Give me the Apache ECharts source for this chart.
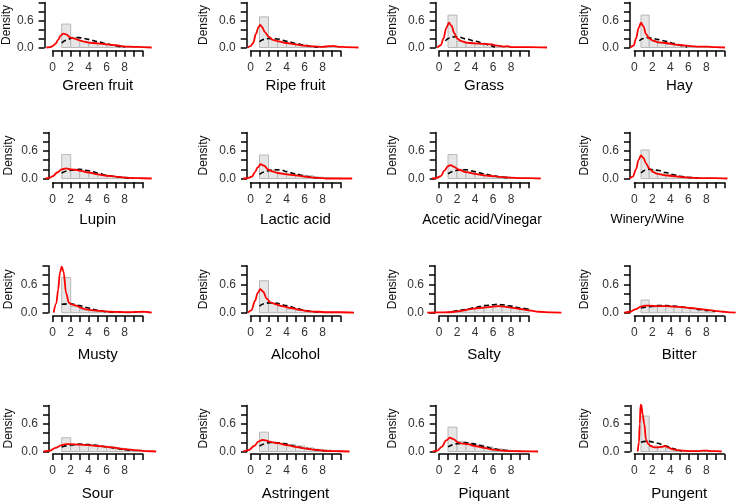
<!DOCTYPE html>
<html>
<head>
<meta charset="utf-8">
<script src="https://cdn.jsdelivr.net/npm/echarts@6/dist/echarts.min.js"></script>
<style>html,body{margin:0;padding:0;background:#fff}#c{width:748px;height:502px}</style>
</head>
<body>
<div id="c"></div>
<script>
// ---------- DATA ----------
const panelTitles = ['Green fruit','Ripe fruit','Grass','Hay','Lupin','Lactic acid','Acetic acid/Vinegar','Winery/Wine','Musty','Alcohol','Salty','Bitter','Sour','Astringent','Piquant','Pungent'];
const binStarts = [1,2,3,4,5,6,7,8,9];
const yTickLabels = ['0.0','0.6'];
const xTickLabels = ['0','2','4','6','8'];

const histHeights = [
  [0.52,0.22,0.14,0.10,0.08,0.06,0.04,0.02,0.01],
  [0.68,0.18,0.12,0.09,0.05,0.03,0.02,0.02,0.01],
  [0.72,0.14,0.10,0.08,0.08,0.04,0.02,0.01,0.01],
  [0.72,0.15,0.09,0.07,0.05,0.04,0.02,0.02,0.01],
  [0.52,0.20,0.16,0.12,0.08,0.05,0.03,0.02,0.01],
  [0.51,0.18,0.12,0.10,0.08,0.06,0.03,0.02,0.01],
  [0.52,0.20,0.14,0.10,0.06,0.04,0.03,0.02,0.01],
  [0.62,0.18,0.10,0.08,0.05,0.03,0.02,0.01,0.01],
  [0.75,0.14,0.06,0.04,0.03,0.02,0.01,0.01,0.02],
  [0.68,0.20,0.14,0.08,0.05,0.03,0.02,0.01,0.01],
  [0.03,0.05,0.08,0.11,0.14,0.16,0.14,0.10,0.08],
  [0.27,0.12,0.14,0.14,0.13,0.11,0.09,0.07,0.05],
  [0.30,0.14,0.14,0.14,0.12,0.10,0.07,0.05,0.03],
  [0.42,0.20,0.18,0.15,0.12,0.08,0.05,0.03,0.02],
  [0.53,0.22,0.18,0.14,0.10,0.06,0.03,0.02,0.01],
  [0.77,0.12,0.10,0.06,0.03,0.02,0.02,0.02,0.01]
];

const dashedCurves = [
  [[1,0.1],[1.5,0.16],[2,0.2],[2.5,0.22],[3,0.22],[3.5,0.2],[4,0.18],[5,0.13],[6,0.08],[7,0.04],[7.5,0.02],[8,0.005]],
  [[1,0.13],[1.5,0.18],[2,0.2],[2.5,0.2],[3,0.19],[4,0.14],[5,0.09],[6,0.05],[7,0.02],[7.5,0.005]],
  [[0.7,0.15],[1.2,0.21],[1.7,0.24],[2.2,0.23],[3,0.19],[4,0.14],[5,0.09],[5.7,0.04],[6.2,0.005]],
  [[0.8,0.15],[1.3,0.2],[1.8,0.22],[2.3,0.21],[3,0.18],[4,0.14],[5,0.09],[6,0.04],[6.6,0.005]],
  [[1,0.12],[2,0.18],[3,0.2],[4,0.17],[5,0.12],[6,0.07],[7,0.04],[8,0.02],[9,0.005]],
  [[1,0.09],[1.5,0.14],[2,0.17],[2.5,0.19],[3,0.19],[3.5,0.18],[4,0.15],[5,0.1],[6,0.05],[7,0.02],[8,0.005]],
  [[1,0.1],[1.5,0.15],[2,0.18],[2.5,0.19],[3,0.19],[4,0.15],[5,0.1],[6,0.06],[7,0.03],[8,0.005]],
  [[1,0.12],[1.5,0.18],[2,0.2],[3,0.18],[4,0.13],[5,0.08],[6,0.04],[7,0.02],[8,0.005]],
  [[1,0.18],[2,0.19],[3,0.15],[4,0.1],[5,0.05],[6,0.02],[7,0.005]],
  [[1,0.14],[1.5,0.19],[2,0.21],[3,0.2],[4,0.15],[5,0.1],[6,0.05],[7,0.02],[8,0.005]],
  [[1.5,0.02],[2,0.04],[3,0.07],[4,0.11],[5,0.15],[6,0.17],[6.5,0.18],[7,0.17],[8,0.14],[9,0.1],[10,0.07]],
  [[1,0.1],[2,0.13],[3,0.15],[4,0.15],[5,0.14],[6,0.12],[7,0.1],[8,0.07],[9,0.05],[10,0.03]],
  [[1,0.1],[2,0.14],[3,0.16],[4,0.15],[5,0.13],[6,0.1],[7,0.07],[8,0.04],[9,0.02]],
  [[1,0.12],[2,0.19],[2.5,0.2],[3,0.19],[4,0.16],[5,0.11],[6,0.07],[7,0.04],[8,0.02],[9,0.01]],
  [[1,0.1],[2,0.17],[3,0.19],[4,0.16],[5,0.11],[6,0.06],[7,0.03],[8,0.01]],
  [[1,0.2],[1.5,0.22],[2,0.22],[3,0.18],[4,0.12],[5,0.06],[5.5,0.03],[6,0.005]]
];

const redCurves = [
  [[-0.7,0],[-0.3,0.01],[0,0.03],[0.3,0.08],[0.6,0.17],[0.9,0.27],[1.2,0.31],[1.5,0.29],[2,0.22],[2.5,0.19],[3,0.16],[3.5,0.13],[4,0.11],[5,0.09],[6,0.07],[7,0.05],[8,0.02],[9,0.015],[10,0.01],[11,0]],
  [[-0.3,0],[0,0.03],[0.3,0.1],[0.6,0.3],[0.9,0.46],[1.1,0.5],[1.3,0.45],[1.6,0.34],[2,0.24],[2.5,0.17],[3,0.14],[4,0.1],[5,0.07],[6,0.04],[7,0.025],[8,0.015],[8.7,0.03],[9.2,0.035],[9.8,0.015],[10.5,0.01],[12,0]],
  [[-0.2,0],[0.2,0.05],[0.5,0.2],[0.8,0.43],[1.1,0.55],[1.4,0.48],[1.7,0.32],[2,0.2],[2.5,0.14],[3,0.11],[4,0.09],[5,0.08],[5.8,0.07],[6.5,0.04],[7.2,0.02],[7.6,0.03],[8,0.01],[9,0.01],[10,0.01],[12,0]],
  [[-0.3,0],[0.1,0.04],[0.4,0.2],[0.7,0.43],[1,0.55],[1.3,0.47],[1.6,0.3],[2,0.2],[2.5,0.15],[3,0.12],[4,0.1],[5,0.07],[6,0.05],[7,0.03],[8,0.02],[9,0.02],[10,0.01],[11.2,0]],
  [[-0.8,0],[-0.3,0.02],[0,0.05],[0.5,0.13],[1,0.2],[1.5,0.22],[2,0.2],[2.5,0.19],[3,0.17],[4,0.13],[5,0.09],[6,0.06],[7,0.04],[8,0.02],[9,0.01],[10,0.005],[11,0]],
  [[-0.8,0],[-0.3,0.01],[0.15,0.04],[0.5,0.14],[0.8,0.24],[1.15,0.31],[1.5,0.28],[2,0.19],[2.5,0.15],[3,0.12],[4,0.09],[5,0.07],[6,0.04],[7,0.02],[8,0.01],[8.5,0],[11.3,0]],
  [[-0.8,0],[-0.3,0.01],[0.2,0.05],[0.6,0.17],[1,0.27],[1.3,0.29],[1.7,0.25],[2.2,0.19],[3,0.14],[4,0.1],[5,0.07],[6,0.05],[7,0.03],[8,0.02],[9,0.01],[10,0.01],[11.3,0]],
  [[-0.4,0],[0,0.04],[0.4,0.2],[0.7,0.4],[1,0.5],[1.3,0.45],[1.6,0.33],[2,0.22],[2.5,0.14],[3,0.1],[4,0.07],[5,0.05],[6,0.03],[7,0.02],[8,0.01],[9,0.01],[10,0.01],[11.5,0]],
  [[0.1,0],[0.4,0.2],[0.6,0.48],[0.8,0.85],[1,0.98],[1.2,0.88],[1.5,0.41],[1.8,0.21],[2.2,0.17],[2.6,0.15],[3.2,0.1],[3.7,0.07],[4.5,0.05],[5.3,0.04],[6.4,0.02],[7.5,0.015],[8.3,0.01],[9.2,0.015],[10,0.02],[10.5,0.015],[11,0]],
  [[-0.3,0],[0.1,0.05],[0.5,0.25],[0.8,0.42],[1.1,0.5],[1.4,0.45],[1.8,0.3],[2.2,0.22],[2.8,0.18],[3.5,0.14],[4.5,0.1],[5.5,0.06],[6.5,0.03],[7.5,0.02],[8.5,0.01],[10,0.01],[11.5,0]],
  [[-1.3,0],[0,0.005],[1,0.01],[1.7,0.02],[2.5,0.04],[3.3,0.07],[4,0.09],[5,0.11],[6,0.13],[6.6,0.14],[7.3,0.13],[8,0.11],[8.9,0.08],[10,0.05],[11.1,0.02],[12.5,0.005],[13.6,0]],
  [[-1,0],[-0.3,0.02],[0.3,0.07],[1,0.13],[1.5,0.15],[2,0.15],[3,0.14],[4,0.14],[5,0.13],[6,0.12],[7,0.1],[8,0.08],[9,0.06],[10,0.04],[11,0.02],[12,0.005],[12.5,0]],
  [[-1,0],[-0.3,0.02],[0.3,0.08],[1,0.14],[1.5,0.16],[2,0.16],[3,0.15],[4,0.14],[5,0.12],[6,0.1],[7,0.08],[8,0.05],[9,0.03],[10,0.015],[11,0.005],[11.5,0]],
  [[-0.8,0],[-0.2,0.03],[0.4,0.12],[0.9,0.22],[1.3,0.25],[1.7,0.24],[2.2,0.21],[3,0.18],[4,0.14],[5,0.1],[6,0.07],[7,0.04],[8,0.02],[9,0.01],[10,0.005],[11,0]],
  [[-0.7,0],[-0.2,0.02],[0.3,0.1],[0.8,0.24],[1.2,0.3],[1.6,0.27],[2.1,0.2],[2.6,0.17],[3.2,0.16],[4,0.12],[5,0.08],[6,0.04],[7,0.02],[8,0.01],[9,0.005],[10,0.003],[11,0]],
  [[0.6,0],[0.75,0.2],[0.85,0.6],[0.95,1.02],[1.05,1.0],[1.2,0.8],[1.4,0.6],[1.6,0.26],[1.9,0.16],[2.2,0.12],[2.6,0.09],[3,0.09],[3.5,0.1],[3.9,0.12],[4.3,0.09],[4.8,0.05],[5.4,0.03],[6,0.02],[7,0.01],[8,0.01],[8.5,0.02],[9,0.02],[9.5,0.01],[10.2,0.01],[10.8,0]]
];

// ---------- LAYOUT ----------
const FONT = 'Liberation Sans, Arial, sans-serif';
const colX0 = [52.7, 250.5, 439, 634.3];       // pixel of x = 0
const pxPerX = 9;
const rowZero = [47.5, 178.5, 312.7, 451.5];    // pixel of density 0
const pxPerY = [45, 46, 47, 46];
const rowAxisY = [50.7, 182.3, 316, 454.5];     // x-axis line
const rowTitleGap = [28, 30, 31, 32];
const yAxisX = [44.5,246.7,435.7,630, 49,247,435.7,630, 48.5,247,435,630, 49,247,435.7,630.3];
const densityCx = [8, 203, 392, 584];
const titleSize = [15,15,15,15, 15,15,14,13, 15,15,15,15, 15,15,15,15];
const titleShift = [0,0,0,0, 0,0,-2,-32, 0,0,0,0, 0,0,0,0];
const Y_LO = -0.2, Y_HI = 1.05;

const grids = [], xAxes = [], yAxes = [], series = [];
panelTitles.forEach((title, p) => {
  const r = Math.floor(p / 4), c = p % 4;
  const ppy = pxPerY[r];
  const g0 = grids.length;
  const sh = titleShift[p];
  // data grid (plot region)
  grids.push({left: colX0[c] - 2 * pxPerX, width: 16 * pxPerX, top: rowZero[r] - Y_HI * ppy, height: (Y_HI - Y_LO) * ppy});
  xAxes.push({gridIndex: g0, type: 'value', min: -2, max: 14, show: false});
  yAxes.push({gridIndex: g0, type: 'value', min: Y_LO, max: Y_HI, show: false});
  // x-axis grid
  grids.push({left: colX0[c], width: 10 * pxPerX, top: rowAxisY[r] - 20, height: 20});
  xAxes.push({
    gridIndex: g0 + 1, type: 'value', min: 0, max: 10, interval: 1, position: 'bottom',
    axisLine: {show: true, onZero: false, lineStyle: {color: '#000', width: 1.5}},
    axisTick: {show: true, inside: false, length: 6, lineStyle: {color: '#000', width: 1.5}},
    axisLabel: {margin: 11, fontSize: 12, color: '#333', fontFamily: FONT, showMinLabel: true, showMaxLabel: true,
      formatter: v => { const s = String(Math.round(v)); return xTickLabels.indexOf(s) >= 0 ? s : ''; }},
    splitLine: {show: false},
    name: title, nameLocation: 'middle', nameGap: rowTitleGap[r] + (15 - titleSize[p]) * 0.5,
    nameTextStyle: {fontSize: titleSize[p], color: '#000', fontFamily: FONT,
      padding: sh < 0 ? [0, -2 * sh, 0, 0] : [0, 0, 0, 2 * sh]}
  });
  yAxes.push({gridIndex: g0 + 1, type: 'value', min: 0, max: 1, show: false});
  // y-axis grid
  grids.push({left: yAxisX[p], width: 20, top: rowZero[r] - ppy, height: ppy});
  xAxes.push({gridIndex: g0 + 2, type: 'value', min: 0, max: 1, show: false});
  yAxes.push({
    gridIndex: g0 + 2, type: 'value', min: 0, max: 1, interval: 0.2, position: 'left',
    axisLine: {show: true, onZero: false, lineStyle: {color: '#000', width: 1.5}},
    axisTick: {show: true, inside: false, length: 6, lineStyle: {color: '#000', width: 1.5}},
    axisLabel: {margin: 11, fontSize: 12, color: '#333', fontFamily: FONT, showMinLabel: true, showMaxLabel: true,
      formatter: v => { const s = v.toFixed(1); return yTickLabels.indexOf(s) >= 0 ? s : ''; }},
    splitLine: {show: false},
    name: 'Density', nameLocation: 'middle', nameRotate: 90,
    nameGap: yAxisX[p] - densityCx[c] - 7,
    nameTextStyle: {fontSize: 12, color: '#111', fontFamily: FONT}
  });
  // histogram
  series.push({
    type: 'custom', xAxisIndex: g0, yAxisIndex: g0, silent: true,
    data: binStarts.map((b, i) => [b, histHeights[p][i]]),
    renderItem: (params, api) => {
      const b = api.value(0), h = api.value(1);
      const a = api.coord([b, h]), d = api.coord([b + 1, 0]);
      return {type: 'rect', shape: {x: a[0], y: a[1], width: d[0] - a[0], height: d[1] - a[1]},
        style: {fill: '#e6e6e6', stroke: '#b8b8b8', lineWidth: 1}};
    }
  });
  // dashed reference curve
  series.push({
    type: 'line', xAxisIndex: g0, yAxisIndex: g0, data: dashedCurves[p], showSymbol: false, silent: true,
    smooth: 0.35, smoothMonotone: 'x', clip: false,
    lineStyle: {color: '#000', width: 1.6, type: [5, 3]}
  });
  // red density
  series.push({
    type: 'line', xAxisIndex: g0, yAxisIndex: g0, data: redCurves[p], showSymbol: false, silent: true,
    smooth: 0.35, smoothMonotone: 'x', clip: false,
    lineStyle: {color: '#ff0000', width: 1.8}
  });
});

const chart = echarts.init(document.getElementById('c'), null, {renderer: 'canvas'});
chart.setOption({animation: false, backgroundColor: '#fff', grid: grids, xAxis: xAxes, yAxis: yAxes, series: series});
</script>
</body>
</html>
